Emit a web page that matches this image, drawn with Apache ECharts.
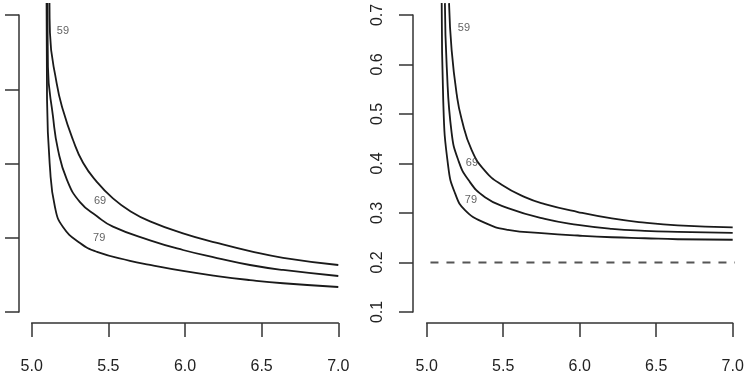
<!DOCTYPE html>
<html>
<head>
<meta charset="utf-8">
<script src="https://cdn.jsdelivr.net/npm/echarts@6/dist/echarts.min.js"></script>
<style>html,body{margin:0;padding:0;background:#fff}#c{width:750px;height:378px}</style>
</head>
<body>
<div id="c"></div>
<script>
// x tick labels
var xTicks = [5.0, 5.5, 6.0, 6.5, 7.0];
var rightYTicks = [0.1, 0.2, 0.3, 0.4, 0.5, 0.6, 0.7];
var curveNames = ['59', '69', '79'];

// Left panel curves [x, y] (y on an unlabeled 0..4 scale)
var left59 = [[5.116,4.16],[5.119,3.76],[5.163,3.08],[5.204,2.72],[5.269,2.32],[5.335,2.01],[5.426,1.75],[5.530,1.53],[5.641,1.36],[5.772,1.22],[5.987,1.06],[6.209,0.93],[6.424,0.82],[6.64,0.73],[7.0,0.633]];
var left69 = [[5.103,4.16],[5.106,3.30],[5.139,2.63],[5.172,2.18],[5.230,1.78],[5.315,1.48],[5.426,1.29],[5.530,1.15],[5.772,0.965],[5.987,0.835],[6.209,0.727],[6.424,0.633],[6.64,0.566],[7.0,0.485]];
var left79 = [[5.097,4.16],[5.100,2.86],[5.119,1.95],[5.152,1.41],[5.204,1.145],[5.315,0.93],[5.426,0.81],[5.641,0.69],[5.772,0.635],[5.987,0.553],[6.209,0.484],[6.424,0.430],[6.64,0.387],[7.0,0.337]];

// Right panel curves [x, y]
var right59 = [[5.146,0.724],[5.163,0.629],[5.196,0.540],[5.228,0.490],[5.294,0.427],[5.381,0.385],[5.490,0.357],[5.642,0.332],[5.772,0.318],[5.988,0.302],[6.210,0.289],[6.425,0.2805],[6.640,0.275],[7.0,0.271]];
var right69 = [[5.119,0.724],[5.131,0.595],[5.163,0.462],[5.206,0.407],[5.272,0.367],[5.381,0.332],[5.531,0.310],[5.772,0.288],[5.988,0.276],[6.210,0.268],[6.425,0.264],[6.640,0.262],[7.0,0.260]];
var right79 = [[5.098,0.724],[5.108,0.528],[5.141,0.393],[5.185,0.340],[5.250,0.306],[5.381,0.280],[5.531,0.266],[5.772,0.259],[5.988,0.2545],[6.210,0.251],[6.425,0.249],[6.640,0.247],[7.0,0.246]];

// Reference line
var refLine = [[4.92,0.2],[7.04,0.2]];

// Curve label positions
var leftLabels = [[5.204,3.78],[5.446,1.495],[5.44,1.0]];
var rightLabels = [[5.243,0.674],[5.296,0.401],[5.289,0.326]];

var FONT = '"Liberation Sans", Arial, sans-serif';
var AX = '#333';

function xAxisDef(gi){
  return {
    type:'value', gridIndex:gi, min:5, max:7, interval:0.5, offset:11,
    axisLine:{show:true, onZero:false, lineStyle:{color:AX, width:1.5}},
    axisTick:{show:true, inside:false, length:14, lineStyle:{color:AX, width:1.5}},
    axisLabel:{show:true, margin:36, fontSize:16, fontFamily:FONT, color:'#222',
      formatter:function(v){return v.toFixed(1);}},
    splitLine:{show:false}
  };
}

function curve(data, xi){
  return {type:'line', xAxisIndex:xi, yAxisIndex:xi, data:data, showSymbol:false, symbol:'none',
    smooth:0.5, clip:false,
    lineStyle:{color:'#1a1a1a', width:1.8}, silent:true, z:3};
}

function labels(pos, xi){
  return {type:'scatter', xAxisIndex:xi, yAxisIndex:xi, symbolSize:0, clip:false,
    itemStyle:{color:'rgba(0,0,0,0)'}, silent:true,
    data: pos.map(function(p,i){return {name:curveNames[i], value:p};}),
    label:{show:true, position:'inside', formatter:'{b}', fontSize:11, fontFamily:FONT, color:'#3a3a3a'}, z:4};
}

var chart = echarts.init(document.getElementById('c'), null, {renderer:'canvas'});
chart.setOption({
  animation:false,
  backgroundColor:'#fff',
  grid:[
    {left:31.7, right:411.7, top:15, bottom:66},
    {left:426.7, right:17.3, top:15, bottom:66}
  ],
  xAxis:[xAxisDef(0), xAxisDef(1)],
  yAxis:[
    {type:'value', gridIndex:0, min:0, max:4, interval:1, offset:12.7,
      axisLine:{show:true, onZero:false, lineStyle:{color:AX, width:1.5}},
      axisTick:{show:true, inside:false, length:14, lineStyle:{color:AX, width:1.5}},
      axisLabel:{show:false}, splitLine:{show:false}},
    {type:'value', gridIndex:1, min:0.1, max:0.7, interval:0.1, offset:13.7,
      axisLine:{show:true, onZero:false, lineStyle:{color:AX, width:1.5}},
      axisTick:{show:true, inside:false, length:14, lineStyle:{color:AX, width:1.5}},
      axisLabel:{show:true, rotate:90, margin:27, fontSize:16, fontFamily:FONT, color:'#222',
        formatter:function(v){return v.toFixed(1);}},
      splitLine:{show:false}}
  ],
  series:[
    curve(left59,0), curve(left69,0), curve(left79,0),
    curve(right59,1), curve(right69,1), curve(right79,1),
    {type:'line', xAxisIndex:1, yAxisIndex:1, data:refLine, showSymbol:false, symbol:'none', clip:false,
      lineStyle:{color:'#555', width:2, type:[8,8]}, silent:true, z:2},
    labels(leftLabels,0), labels(rightLabels,1)
  ]
});
</script>
</body>
</html>
